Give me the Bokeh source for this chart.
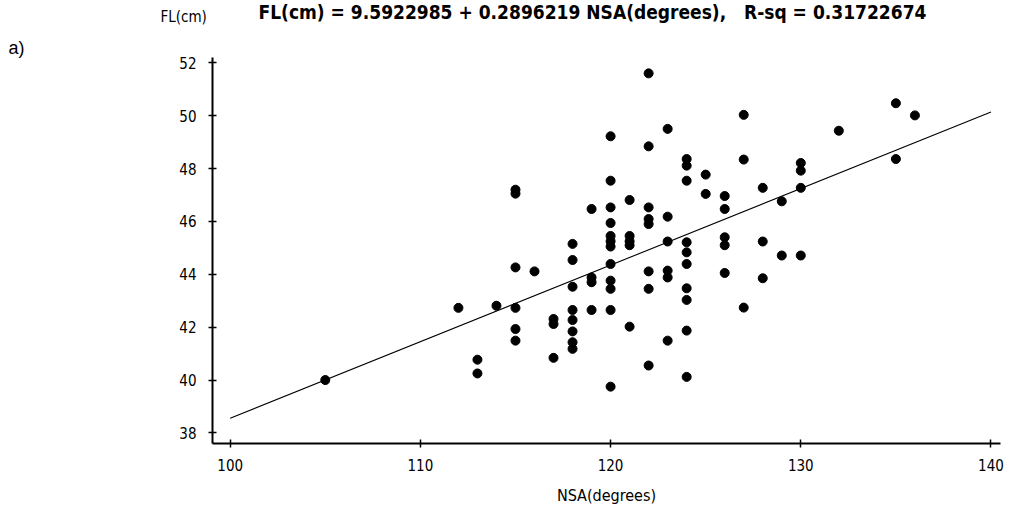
from bokeh.plotting import figure
from bokeh.models import Range1d, Title, FixedTicker
from bokeh.embed import file_html
from bokeh.resources import INLINE

# Regression coefficients (from the title)
intercept = 9.5922985
slope = 0.2896219
r_sq = 0.31722674

# NSA (degrees) values
nsa = [105,
       112,
       113, 113,
       114,
       115, 115, 115, 115, 115, 115,
       116,
       117, 117, 117,
       118, 118, 118, 118, 118, 118, 118, 118,
       119, 119, 119, 119,
       120, 120, 120, 120, 120, 120, 120, 120, 120, 120, 120, 120,
       121, 121, 121, 121, 121,
       122, 122, 122, 122, 122, 122, 122, 122,
       123, 123, 123, 123, 123, 123,
       124, 124, 124, 124, 124, 124, 124, 124, 124, 124,
       125, 125,
       126, 126, 126, 126, 126,
       127, 127, 127,
       128, 128, 128,
       129, 129,
       130, 130, 130, 130,
       132,
       135, 135,
       136]

# FL (cm) values
fl = [40.0,
      42.73,
      40.77, 40.25,
      42.81,
      47.2, 47.05, 44.26, 42.73, 41.93, 41.49,
      44.11,
      42.31, 42.12, 40.84,
      45.15, 44.54, 43.53, 42.65, 42.27, 41.84, 41.43, 41.18,
      46.47, 43.88, 43.70, 42.65,
      49.22, 47.54, 46.53, 45.94, 45.45, 45.25, 45.05, 44.39, 43.76, 43.45, 42.65, 39.75,
      46.81, 45.45, 45.25, 45.1, 42.02,
      51.6, 48.84, 46.53, 46.09, 45.9, 44.11, 43.45, 40.55,
      49.50, 46.18, 45.24, 44.14, 43.88, 41.49,
      48.36, 48.11, 47.54, 45.21, 44.83, 44.39, 43.47, 43.03, 41.87, 40.12,
      47.77, 47.04,
      46.96, 46.47, 45.4, 45.1, 44.05,
      50.03, 48.34, 42.74,
      47.27, 45.24, 43.85,
      46.76, 44.71,
      48.21, 47.92, 47.27, 44.71,
      49.43,
      50.47, 48.36,
      50.01]

x_ticks = [100, 110, 120, 130, 140]
y_ticks = [38, 40, 42, 44, 46, 48, 50, 52]
line_x = [100, 140]
line_y = [intercept + slope * v for v in line_x]

title_text = ("FL(cm) = %.7f + %.7f NSA(degrees),\u00a0\u00a0\u00a0R-sq = %.8f"
              % (intercept, slope, r_sq))

FONT = "DejaVu Sans Condensed"

p = figure(width=1014, height=510,
           x_range=Range1d(99.07, 140.5), y_range=Range1d(37.6, 52.2),
           output_backend="svg", toolbar_location=None,
           min_border_left=212, min_border_right=14,
           min_border_top=57, min_border_bottom=67)

p.grid.visible = False
p.outline_line_color = None
p.background_fill_color = "white"
p.border_fill_color = "white"

p.line(line_x, line_y, line_color="black", line_width=1.1)
p.scatter(nsa, fl, size=9, color="black")

for ax in (p.xaxis[0], p.yaxis[0]):
    ax.axis_line_width = 2
    ax.axis_line_color = "black"
    ax.major_tick_in = 4
    ax.major_tick_out = 4
    ax.major_tick_line_width = 1.5
    ax.major_tick_line_color = "black"
    ax.minor_tick_line_color = None
    ax.major_label_text_font = FONT
    ax.major_label_text_font_size = "15px"
    ax.major_label_text_color = "black"

p.xaxis.ticker = FixedTicker(ticks=x_ticks)
p.yaxis.ticker = FixedTicker(ticks=y_ticks)
p.xaxis.major_label_standoff = 11
p.yaxis.major_label_standoff = 12
p.xaxis.axis_label = "NSA(degrees)"
p.xaxis.axis_label_text_font = FONT
p.xaxis.axis_label_text_font_size = "16px"
p.xaxis.axis_label_text_font_style = "normal"
p.xaxis.axis_label_text_color = "black"
p.xaxis.axis_label_standoff = 12

# texts above the frame (stacked outward from the frame)
t_a = Title(text="a)", text_font="Liberation Sans", text_font_size="18px",
            text_font_style="normal", text_color="black",
            align="left", offset=-204, standoff=0)
t_fl = Title(text="FL(cm)", text_font=FONT, text_font_size="15px",
             text_font_style="normal", text_color="black",
             align="left", offset=-52, vertical_align="top", standoff=14.5)
t_main = Title(text=title_text, text_font=FONT, text_font_size="19px",
               text_font_style="bold", text_color="black",
               align="left", offset=46, standoff=-44)
p.add_layout(t_a, "above")
p.add_layout(t_fl, "above")
p.add_layout(t_main, "above")

open("out.html", "w").write(file_html(p, INLINE))
